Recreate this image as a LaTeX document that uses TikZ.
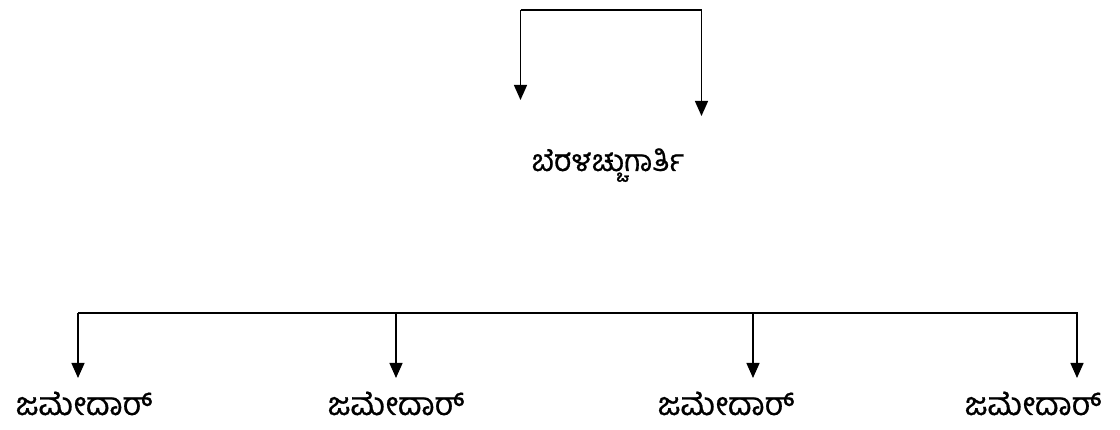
\documentclass[tikz,border=0pt]{standalone}
\usepackage{fontspec}
\newfontfamily\kan[Script=Kannada,FakeBold=0.6]{Hind Mysuru}
\usetikzlibrary{arrows.meta}
\begin{document}
\begin{tikzpicture}[x=1pt,y=-1pt,
  conn/.style={line width=1.4pt,-{Triangle[length=15pt,width=13pt]}},
  plain/.style={line width=1.4pt},
  lbl/.style={font=\kan\fontsize{32}{36}\selectfont,inner sep=0pt,anchor=base,text depth=2pt},
  toplbl/.style={font=\kan\fontsize{30}{34}\selectfont,inner sep=0pt,anchor=base}]
\useasboundingbox (0,0) rectangle (1120,430);
% top bracket
\coordinate (tl) at (520.5,10);
\coordinate (tr) at (701.5,10);
\coordinate (tle) at (520.5,100);
\coordinate (tre) at (701.5,116);
\draw[conn] (tl) -- (tle);
\draw[plain] (tl) -- (tr);
\draw[conn] (tr) -- (tre);
\node[toplbl] (typist) at (608,171) {ಬೆರಳಚ್ಚುಗಾರ್ತಿ};
% bottom
\coordinate (bl) at (78,313);
\coordinate (br) at (1078,313);
\draw[plain] (bl) -- (br);
\node[lbl] (j1) at (84,415) {ಜಮೇದಾರ್};
\node[lbl] (j2) at (396,415) {ಜಮೇದಾರ್};
\node[lbl] (j3) at (726,415) {ಜಮೇದಾರ್};
\node[lbl] (j4) at (1033,415) {ಜಮೇದಾರ್};
\coordinate (b1) at (78,313);
\coordinate (b2) at (396,313);
\coordinate (b3) at (753,313);
\coordinate (b4) at (1077,313);
\coordinate (e1) at (78,378);
\coordinate (e2) at (396,378);
\coordinate (e3) at (753,378);
\coordinate (e4) at (1077,378);
\draw[conn] (b1) -- (e1);
\draw[conn] (b2) -- (e2);
\draw[conn] (b3) -- (e3);
\draw[conn] (b4) -- (e4);
\end{tikzpicture}
\end{document}
